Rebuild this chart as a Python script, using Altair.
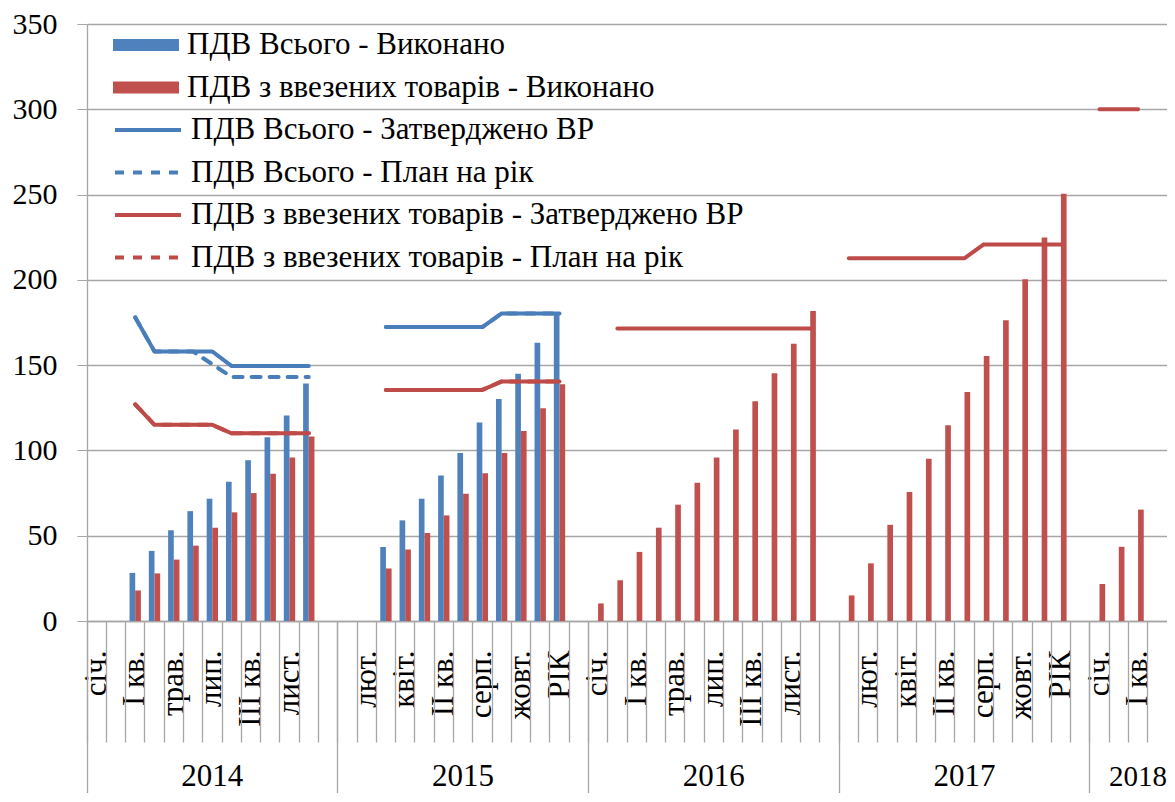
import json
import pandas as pd
import altair as alt

# ---------------- data ----------------
YEARS = ["2014", "2015", "2016", "2017", "2018"]
SLOTS = [13, 13, 13, 13, 4]          # category slots per year (12 months + spacer)
MONTH_LABELS = ["січ.", "лют.", "І кв.", "квіт.", "трав.", "ІІ кв.", "лип.",
                "серп.", "ІІІ кв.", "жовт.", "лист.", "РІК", ""]

S_TOTAL_DONE = "ПДВ Всього - Виконано"
S_IMPORT_DONE = "ПДВ з ввезених товарів - Виконано"
S_TOTAL_VR = "ПДВ Всього - Затверджено ВР"
S_TOTAL_PLAN = "ПДВ Всього - План на рік"
S_IMPORT_VR = "ПДВ з ввезених товарів - Затверджено ВР"
S_IMPORT_PLAN = "ПДВ з ввезених товарів - План на рік"

TOTAL_DONE = {
    "2014": [None, None, 28.2, 41.1, 53.2, 64.4, 71.7, 81.6, 94.2, 107.7, 120.5, 139.2],
    "2015": [None, None, 43.4, 59.0, 71.7, 85.3, 98.5, 116.4, 130.1, 145.0, 163.2, 180.1],
}
IMPORT_DONE = {
    "2014": [None, None, 17.9, 27.9, 36.0, 44.2, 54.7, 63.7, 75.0, 86.3, 95.8, 108.1],
    "2015": [None, None, 30.8, 41.9, 51.6, 61.9, 74.6, 86.6, 98.5, 111.4, 124.8, 138.8],
    "2016": [10.3, 23.9, 40.5, 54.7, 68.2, 81.0, 95.8, 112.3, 128.9, 145.3, 162.6, 181.7],
    "2017": [15.0, 33.8, 56.4, 75.7, 95.1, 114.7, 134.3, 155.3, 176.3, 200.3, 224.8, 250.5],
    "2018": [21.7, 43.5, 65.3],
}
TOTAL_VR = {
    "2014": [None, None, 178.0, 158.0, 158.0, 158.0, 158.0, 149.5, 149.5, 149.5, 149.5, 149.5],
    "2015": [None, None, 172.3, 172.3, 172.3, 172.3, 172.3, 172.3, 180.3, 180.3, 180.3, 180.3],
}
TOTAL_PLAN = {
    "2014": [None, None, 178.0, 158.0, 158.0, 158.0, 150.5, 143.0, 143.0, 143.0, 143.0, 143.0],
    "2015": [None, None, 172.3, 172.3, 172.3, 172.3, 172.3, 172.3, 180.3, 180.3, 180.3, 180.3],
}
IMPORT_VR = {
    "2014": [None, None, 127.0, 115.0, 115.0, 115.0, 115.0, 110.0, 110.0, 110.0, 110.0, 110.0],
    "2015": [None, None, 135.5, 135.5, 135.5, 135.5, 135.5, 135.5, 140.4, 140.4, 140.4, 140.4],
    "2016": [None, 171.5, 171.5, 171.5, 171.5, 171.5, 171.5, 171.5, 171.5, 171.5, 171.5, 171.5],
    "2017": [212.7, 212.7, 212.7, 212.7, 212.7, 212.7, 212.7, 220.8, 220.8, 220.8, 220.8, 220.8],
    "2018": [300.0, 300.0, 300.0],
}
IMPORT_PLAN = {
    "2014": [None, None, 127.0, 115.0, 115.0, 115.0, 115.0, 110.0, 110.0, 110.0, 110.0, 110.0],
    "2015": [None, None, 135.5, 135.5, 135.5, 135.5, 135.5, 135.5, 140.4, 140.4, 140.4, 140.4],
}

Y_TICKS = [0, 50, 100, 150, 200, 250, 300, 350]

# ---------------- build tables ----------------
starts = {}
acc = 0
for y, n in zip(YEARS, SLOTS):
    starts[y] = acc
    acc += n
N_CATS = acc
CAT_IDX = list(range(N_CATS))

cat_labels = []
for y, n in zip(YEARS, SLOTS):
    cat_labels += MONTH_LABELS[:n]

year_at = [""] * N_CATS
for y, n in zip(YEARS, SLOTS):
    year_at[starts[y] + n // 2] = y


def rows(series, table):
    out = []
    for y, vals in table.items():
        for k, v in enumerate(vals):
            if v is not None:
                out.append({"idx": starts[y] + k, "series": series, "value": v,
                            "seg": series + " " + y})
    return out


bar_df = pd.DataFrame(rows(S_TOTAL_DONE, TOTAL_DONE) + rows(S_IMPORT_DONE, IMPORT_DONE))
line_df = pd.DataFrame(rows(S_TOTAL_VR, TOTAL_VR) + rows(S_TOTAL_PLAN, TOTAL_PLAN)
                       + rows(S_IMPORT_VR, IMPORT_VR) + rows(S_IMPORT_PLAN, IMPORT_PLAN))
cat_df = pd.DataFrame({"idx": CAT_IDX})

# ---------------- style ----------------
FONT = "'Liberation Serif', 'Times New Roman', 'DejaVu Serif', serif"
FS = 30
FS_BIG = 31
GRAY = "#A6A6A6"
BLUE_BAR, RED_BAR = "#4F81BD", "#C0504D"
BLUE_LINE, RED_LINE = "#4A7EBB", "#BE4B48"

x_scale = alt.Scale(type="band", domain=CAT_IDX, paddingInner=0, paddingOuter=0)
y_scale = alt.Scale(domain=[0, 350], nice=False, zero=True)
y_axis = alt.Axis(values=Y_TICKS, grid=True, gridColor=GRAY, gridWidth=1.3,
                  tickSize=10, tickColor=GRAY, domainColor=GRAY, domainWidth=1.3,
                  labelFont=FONT, labelFontSize=FS, labelColor="black",
                  labelPadding=20, title=None)

labels_js = json.dumps(cat_labels, ensure_ascii=False)
years_js = json.dumps(year_at, ensure_ascii=False)

axis_labels = alt.Axis(orient="bottom", values=[i for i in CAT_IDX if i % 2 == 0],
                       labelExpr=f"{labels_js}[datum.value]",
                       labelAngle=270, labelAlign="right", labelBaseline="middle",
                       labelPadding=29, ticks=False, tickSize=0, domain=False, grid=False,
                       labelFont=FONT, labelFontSize=FS_BIG, labelColor="black",
                       labelOverlap=False, labelLimit=300, title=None)
axis_ticks = alt.Axis(orient="bottom", bandPosition=0, tickSize=121, tickColor=GRAY,
                      tickWidth=1.3, labels=False, domain=True, domainColor=GRAY,
                      domainWidth=1.3, grid=False, title=None)
axis_year_ticks = alt.Axis(orient="bottom", values=[starts[y] for y in YEARS],
                           bandPosition=0, tickSize=185, tickColor=GRAY, tickWidth=1.3,
                           labels=False, domain=False, grid=False, title=None)
axis_years = alt.Axis(orient="bottom", values=[starts[y] + SLOTS[i] // 2 for i, y in enumerate(YEARS[:-1])],
                      labelExpr=f"{years_js}[datum.value]", ticks=False, tickSize=0,
                      domain=False, grid=False, labelAngle=0, labelAlign="center",
                      labelBaseline="alphabetic", labelPadding=164, labelFont=FONT,
                      labelFontSize=FS_BIG, labelColor="black", title=None)
axis_last_year = alt.Axis(orient="bottom", values=[starts[YEARS[-1]] + SLOTS[-1] // 2],
                          bandPosition=0, labelExpr=f"{years_js}[datum.value]",
                          ticks=False, tickSize=0, domain=False, grid=False, labelAngle=0,
                          labelAlign="center", labelBaseline="alphabetic", labelPadding=164,
                          labelFont=FONT, labelFontSize=29, labelColor="black",
                          labelFlush=False, labelBound=False, title=None)

ROW_H = 38
ROW_PAD = 4.5
SYM = 66 * 66

legend_bars = alt.Legend(orient="none", legendX=26, legendY=2, title=None, padding=0,
                         symbolType="M-1,-0.18H1V0.18H-1Z", symbolSize=SYM,
                         symbolStrokeWidth=0, clipHeight=ROW_H, rowPadding=ROW_PAD,
                         labelFont=FONT, labelFontSize=FS_BIG, labelColor="black",
                         labelOffset=8, labelLimit=800)
legend_lines = alt.Legend(orient="none", legendX=26, legendY=2 + 2 * (ROW_H + ROW_PAD),
                          title=None, padding=0, symbolType="stroke", symbolSize=SYM,
                          symbolStrokeWidth=4, clipHeight=ROW_H, rowPadding=ROW_PAD,
                          labelFont=FONT, labelFontSize=FS_BIG, labelColor="black",
                          labelOffset=8, labelLimit=800)

bars = alt.Chart(bar_df).mark_bar().encode(
    x=alt.X("idx:O", scale=x_scale, axis=axis_labels),
    xOffset=alt.XOffset("series:N", scale=alt.Scale(domain=[S_TOTAL_DONE, S_IMPORT_DONE],
                                                    paddingInner=0, paddingOuter=0.7)),
    y=alt.Y("value:Q", scale=y_scale, axis=y_axis),
    fill=alt.Fill("series:N", scale=alt.Scale(domain=[S_TOTAL_DONE, S_IMPORT_DONE],
                                              range=[BLUE_BAR, RED_BAR]),
                  legend=legend_bars),
)

line_series = [S_TOTAL_VR, S_TOTAL_PLAN, S_IMPORT_VR, S_IMPORT_PLAN]
lines = alt.Chart(line_df).mark_line(strokeWidth=4, strokeCap="round", strokeJoin="round").encode(
    x=alt.X("idx:O", scale=x_scale, axis=axis_ticks),
    y=alt.Y("value:Q", scale=y_scale, axis=y_axis),
    stroke=alt.Stroke("series:N", scale=alt.Scale(domain=line_series,
                                                  range=[BLUE_LINE, BLUE_LINE, RED_LINE, RED_LINE]),
                      legend=legend_lines),
    strokeDash=alt.StrokeDash("series:N", scale=alt.Scale(domain=line_series,
                                                          range=[[1, 0], [9, 9], [1, 0], [9, 9]]),
                              legend=legend_lines),
    detail="seg:N",
)

guide1 = alt.Chart(cat_df).mark_point(opacity=0, size=0).encode(
    x=alt.X("idx:O", scale=x_scale, axis=axis_year_ticks))
guide2 = alt.Chart(cat_df).mark_point(opacity=0, size=0).encode(
    x=alt.X("idx:O", scale=x_scale, axis=axis_years))
guide3 = alt.Chart(cat_df).mark_point(opacity=0, size=0).encode(
    x=alt.X("idx:O", scale=x_scale, axis=axis_last_year))

chart = alt.layer(bars, lines, guide1, guide2, guide3).resolve_axis(
    x="independent"
).properties(
    width=1080, height=597,
    autosize=alt.AutoSizeParams(type="none"),
    padding={"left": 79, "top": 16, "right": 0, "bottom": 172},
).configure_view(stroke=None).configure(background="white")

chart.save("out.html", embed_options={"renderer": "svg", "actions": False})
